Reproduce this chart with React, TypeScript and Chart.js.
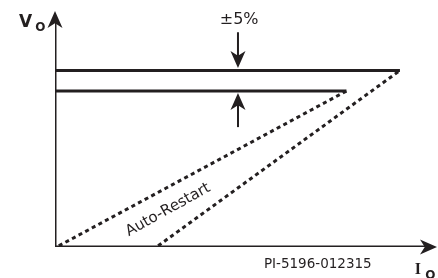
import { useEffect, useRef } from "react";
import { Chart, registerables } from "chart.js";

Chart.register(...registerables);

const INK = "#231f20";

// Normalised output current (x) and output voltage (y), 0..100
const axisXShaft = [{ x: 0, y: 0 }, { x: 97.5, y: 0 }];
const axisYShaft = [{ x: 0, y: 0 }, { x: 0, y: 96.5 }];
const upperLimit = [{ x: 0, y: 74.8 }, { x: 90.3, y: 74.8 }];
const lowerLimit = [{ x: 0, y: 66.1 }, { x: 76.3, y: 66.1 }];
const restartLow = [{ x: 1, y: 0.5 }, { x: 76.3, y: 66.1 }];
const restartHigh = [{ x: 27, y: 0.5 }, { x: 90.3, y: 74.8 }];
const tolDownShaft = [{ x: 47.9, y: 91 }, { x: 47.9, y: 80 }];
const tolUpShaft = [{ x: 47.9, y: 50.8 }, { x: 47.9, y: 61 }];

// arrow heads: [from, tip]
const arrowHeads = [
  [axisYShaft[1], { x: 0, y: 100 }],
  [axisXShaft[1], { x: 100, y: 0 }],
  [tolDownShaft[1], { x: 47.9, y: 75.8 }],
  [tolUpShaft[1], { x: 47.9, y: 65.3 }],
];

const labels = [
  { text: "±5%", x: 48.2, y: 96.2, font: "16px 'DejaVu Sans'", align: "center", base: "middle", rot: 0 },
  { text: "Auto-Restart", x: 29.6, y: 15.7, font: "15px 'DejaVu Sans'", align: "center", base: "middle", rot: -29 },
  { text: "PI-5196-012315", x: 68.8, y: -7.6, font: "13.5px 'DejaVu Sans'", align: "center", base: "middle", rot: 0 },
  { text: "V", x: -9.4, y: 93.2, font: "bold 17px 'DejaVu Sans'", align: "left", base: "alphabetic", rot: 0 },
  { text: "O", x: -5.2, y: 91.5, font: "bold 12px 'DejaVu Sans'", align: "left", base: "alphabetic", rot: 0 },
  { text: "I", x: 94.2, y: -11.4, font: "bold 16px 'Liberation Serif'", align: "left", base: "alphabetic", rot: 0 },
  { text: "O", x: 96.9, y: -13.4, font: "bold 12px 'DejaVu Sans'", align: "left", base: "alphabetic", rot: 0 },
];

const overlay = {
  id: "overlay",
  afterDatasetsDraw(chart: any) {
    const { ctx, scales } = chart;
    const sx = scales.x;
    const sy = scales.y;
    ctx.save();
    ctx.fillStyle = INK;
    const L = 17;
    const W = 15;
    for (const [from, tip] of arrowHeads) {
      const fx = sx.getPixelForValue(from.x);
      const fy = sy.getPixelForValue(from.y);
      const tx = sx.getPixelForValue(tip.x);
      const ty = sy.getPixelForValue(tip.y);
      const ang = Math.atan2(ty - fy, tx - fx);
      ctx.save();
      ctx.translate(tx, ty);
      ctx.rotate(ang);
      ctx.beginPath();
      ctx.moveTo(0, 0);
      ctx.lineTo(-L, -W / 2);
      ctx.lineTo(-L * 0.72, 0);
      ctx.lineTo(-L, W / 2);
      ctx.closePath();
      ctx.fill();
      ctx.restore();
    }
    for (const l of labels) {
      const px = sx.getPixelForValue(l.x);
      const py = sy.getPixelForValue(l.y);
      ctx.save();
      ctx.translate(px, py);
      ctx.rotate((l.rot * Math.PI) / 180);
      ctx.font = l.font;
      ctx.textAlign = l.align;
      ctx.textBaseline = l.base;
      ctx.fillText(l.text, 0, 0);
      ctx.restore();
    }
    ctx.restore();
  },
};

function line(data: any[], extra: any = {}) {
  return {
    data,
    showLine: true,
    borderColor: INK,
    backgroundColor: INK,
    borderWidth: 3,
    pointRadius: 0,
    borderCapStyle: "butt",
    fill: false,
    ...extra,
  };
}

export default function App() {
  const ref = useRef<HTMLCanvasElement>(null);
  useEffect(() => {
    const chart = new Chart(ref.current!, {
      type: "scatter",
      data: {
        datasets: [
          line(axisXShaft, { borderCapStyle: "square" }),
          line(axisYShaft, { borderCapStyle: "square" }),
          line(upperLimit),
          line(lowerLimit),
          line(restartLow, { borderDash: [4, 3.5] }),
          line(restartHigh, { borderDash: [4, 3.5] }),
          line(tolDownShaft, { borderWidth: 2 }),
          line(tolUpShaft, { borderWidth: 2 }),
        ] as any,
      },
      options: {
        animation: false,
        responsive: false,
        events: [],
        layout: { padding: { left: 55, right: 1, top: 11, bottom: 31 } },
        plugins: { legend: { display: false }, tooltip: { enabled: false } },
        scales: {
          x: { type: "linear", min: 0, max: 100, display: false },
          y: { type: "linear", min: 0, max: 100, display: false },
        },
      },
      plugins: [overlay],
    });
    return () => chart.destroy();
  }, []);
  return (
    <div style={{ position: "fixed", left: 0, top: 0, width: 438, height: 278, background: "#fff" }}>
      <canvas ref={ref} width={438} height={278} style={{ display: "block" }} />
    </div>
  );
}
